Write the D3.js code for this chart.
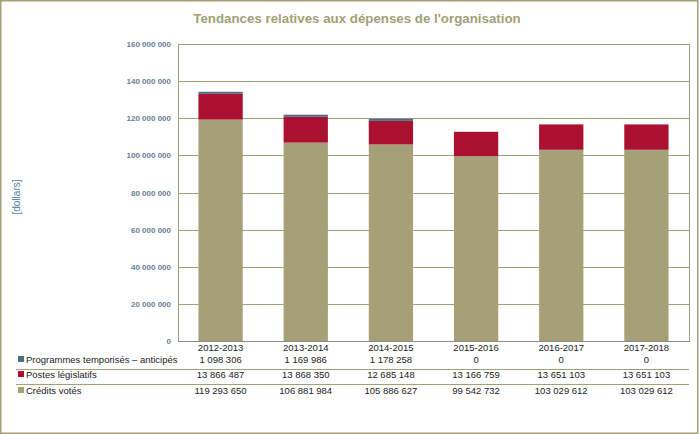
<!DOCTYPE html>
<html><head><meta charset="utf-8">
<script src="https://cdn.jsdelivr.net/npm/d3@7"></script>
<style>body{margin:0;background:#fff}svg{display:block}</style>
</head><body><svg id="c" width="699" height="434"></svg>
<script>
const categories = ["2012-2013","2013-2014","2014-2015","2015-2016","2016-2017","2017-2018"];
const seriesNames = ["Crédits votés","Postes législatifs","Programmes temporisés – anticipés"];
const creditsVotes = [119293650,106881984,105886627,99542732,103029612,103029612];
const postesLegislatifs = [13866487,13868350,12685148,13166759,13651103,13651103];
const programmesTemporises = [1098306,1169986,1178258,0,0,0];
const yTicks = [0,20000000,40000000,60000000,80000000,100000000,120000000,140000000,160000000];
const colors = ["#a5a077","#ab1030","#4e6e85"];
const title = "Tendances relatives aux dépenses de l'organisation";
const yLabel = "[dollars]";

(function(){
const svg = d3.select("#c");
const W=699,H=434;
const pL=178,pR=689,pT=44,pB=341;
const font="Liberation Sans, Arial, sans-serif";
const fmt = v => d3.format(",")(v).replace(/,/g," ");

svg.append("rect").attr("x",0.75).attr("y",0.75).attr("width",W-2).attr("height",H-1.5)
  .attr("fill","#fff").attr("stroke","#a39f76").attr("stroke-width",1.5);

svg.append("text").attr("x",357).attr("y",23).attr("text-anchor","middle")
  .attr("font-family",font).attr("font-weight","bold").attr("font-size",13.3)
  .attr("fill","#a39f76").text(title);

const x = d3.scaleBand().domain(categories).range([pL,pR]).paddingInner(0.48).paddingOuter(0.24);
const y = d3.scaleLinear().domain([0,160000000]).range([pB,pT]);

svg.append("g").selectAll("line").data(yTicks.filter(d=>d>0)).join("line")
  .attr("x1",pL).attr("x2",pR).attr("y1",d=>Math.round(y(d))+0.5).attr("y2",d=>Math.round(y(d))+0.5)
  .attr("stroke","#a39f76").attr("stroke-width",1);
svg.append("line").attr("x1",pR+0.5).attr("x2",pR+0.5).attr("y1",pT).attr("y2",pB)
  .attr("stroke","#a39f76");

const yAxis = d3.axisLeft(y).tickValues(yTicks).tickSize(0).tickPadding(7).tickFormat(fmt);
const ya = svg.append("g").attr("transform",`translate(${pL},0)`).call(yAxis);
ya.select(".domain").attr("stroke","#a39f76");
ya.selectAll("text").attr("font-family",font).attr("font-size",8).attr("font-weight","bold").attr("fill","#6a8196");

svg.append("text").attr("transform","translate(20,197) rotate(-90)").attr("text-anchor","middle")
  .attr("font-family",font).attr("font-size",10).attr("fill","#4a7fa0").text(yLabel);

const data = categories.map((c,i)=>({cat:c,s0:creditsVotes[i],s1:postesLegislatifs[i],s2:programmesTemporises[i]}));
const stack = d3.stack().keys(["s0","s1","s2"])(data);
svg.append("g").selectAll("g").data(stack).join("g").attr("fill",(d,i)=>colors[i])
  .selectAll("rect").data(d=>d).join("rect")
  .attr("x",d=>x(d.data.cat)).attr("width",x.bandwidth())
  .attr("y",d=>y(d[1])).attr("height",d=>Math.max(0,y(d[0])-y(d[1])));

svg.append("line").attr("x1",pL).attr("x2",pR+1).attr("y1",pB+0.5).attr("y2",pB+0.5).attr("stroke","#8a8a8a");

const cx = c => x(c)+x.bandwidth()/2;
const fs = 9.5;
svg.append("g").selectAll("text").data(categories).join("text")
  .attr("x",d=>cx(d)).attr("y",351).attr("text-anchor","middle")
  .attr("font-family",font).attr("font-size",fs).attr("fill","#222").text(d=>d);

const rows = [
  {name:seriesNames[2],vals:programmesTemporises,color:colors[2],yb:363},
  {name:seriesNames[1],vals:postesLegislatifs,color:colors[1],yb:378},
  {name:seriesNames[0],vals:creditsVotes,color:colors[0],yb:394}
];
[369.5,384.5].forEach(yy=>svg.append("line").attr("x1",16).attr("x2",pR).attr("y1",yy).attr("y2",yy).attr("stroke","#a39f76"));
rows.forEach(r=>{
  svg.append("rect").attr("x",18).attr("y",r.yb-7).attr("width",6).attr("height",6).attr("fill",r.color);
  svg.append("text").attr("x",26).attr("y",r.yb).attr("font-family",font).attr("font-size",fs).attr("fill","#222").text(r.name);
  svg.append("g").selectAll("text").data(categories).join("text")
    .attr("x",d=>cx(d)).attr("y",r.yb).attr("text-anchor","middle")
    .attr("font-family",font).attr("font-size",fs).attr("fill","#222").text((d,i)=>fmt(r.vals[i]));
});
})();
</script></body></html>
